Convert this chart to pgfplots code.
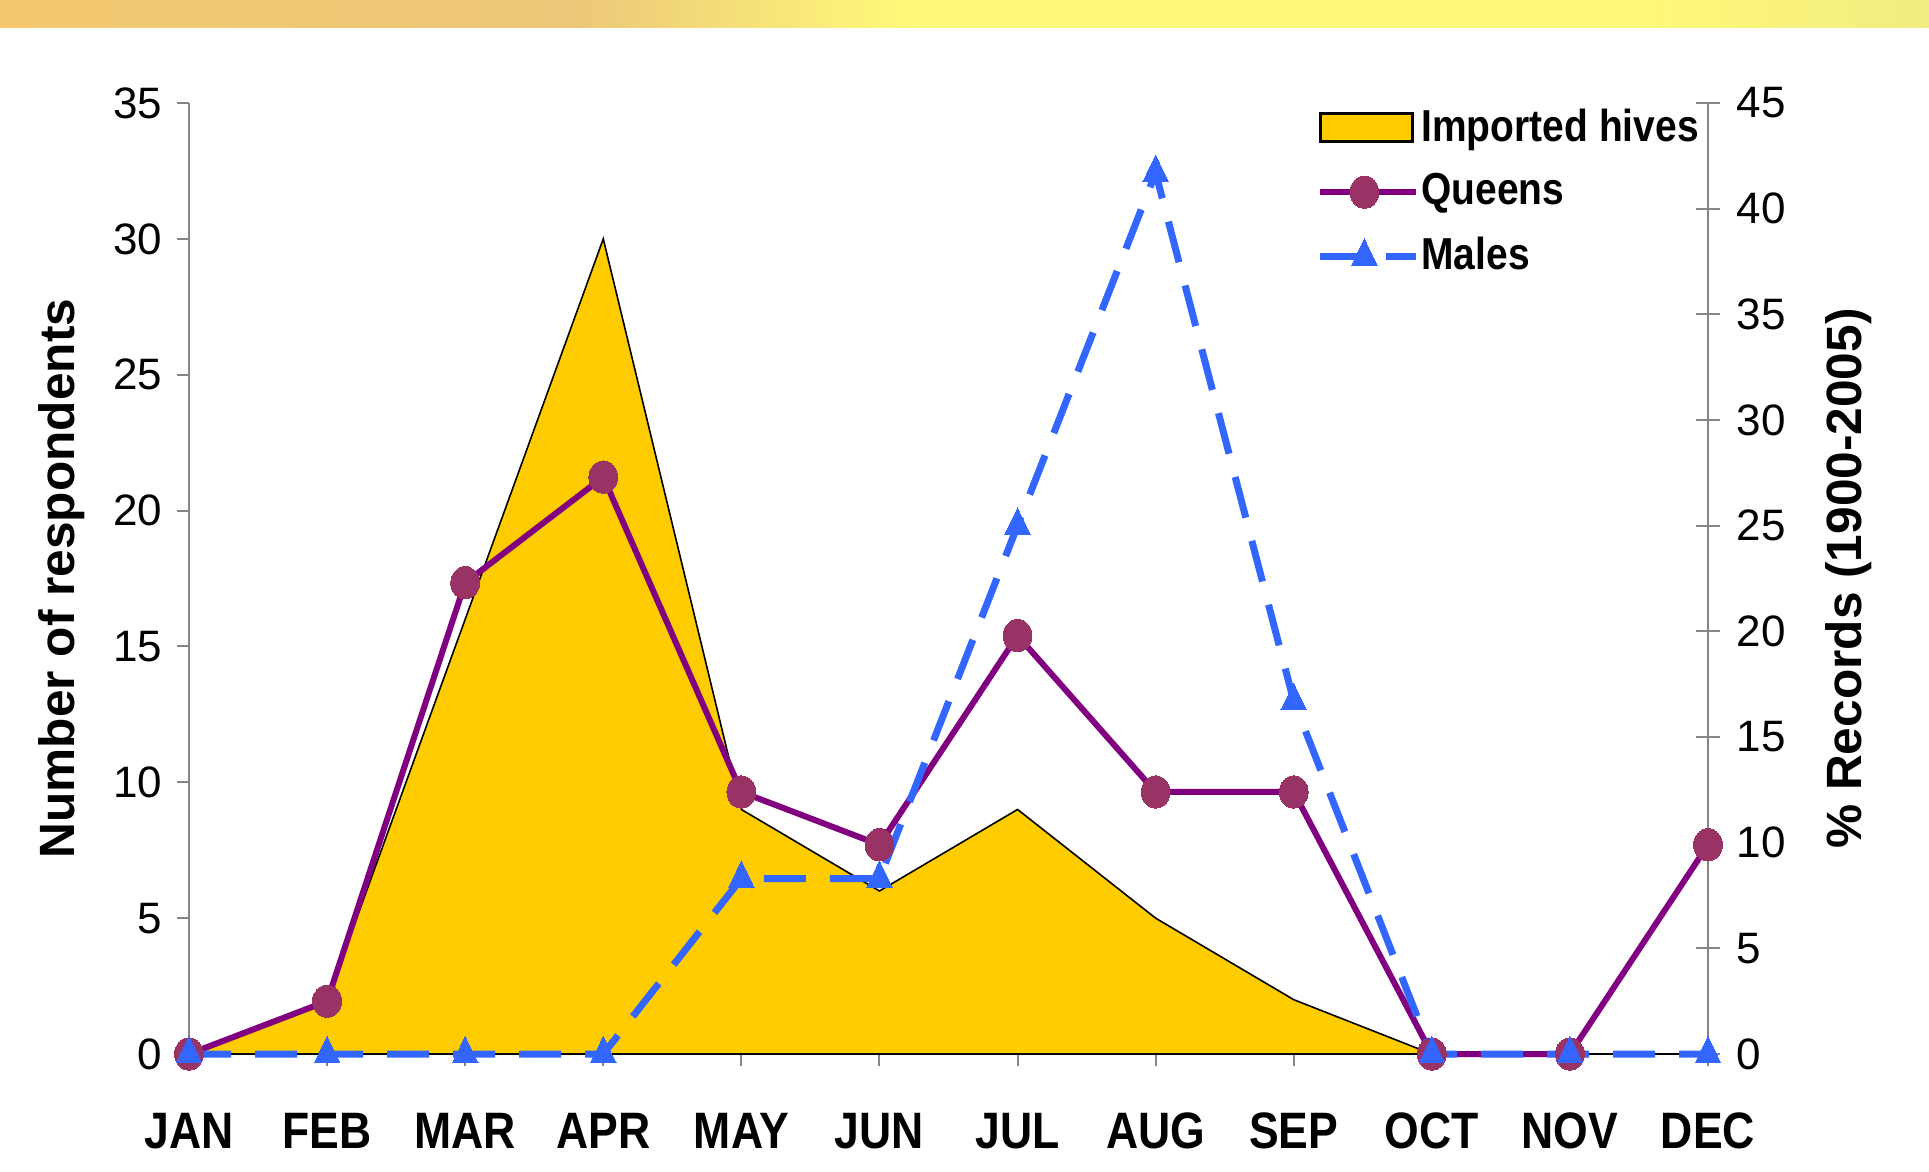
\documentclass[border=0pt]{standalone}
\usepackage{fontspec}
\setmainfont{Liberation Sans}
\newfontfamily\condfont[FakeStretch=0.87]{Liberation Sans}
\usepackage{pgfplots}
\pgfplotsset{compat=1.18}
\definecolor{hive}{RGB}{255,204,0}
\definecolor{queenline}{RGB}{128,0,128}
\definecolor{queenmark}{RGB}{153,51,102}
\definecolor{males}{RGB}{51,102,255}
\definecolor{axgray}{RGB}{134,134,134}
\definecolor{bandA}{RGB}{245,200,112}
\definecolor{bandB}{RGB}{236,200,120}
\definecolor{bandC}{RGB}{255,249,122}
\definecolor{bandD}{RGB}{242,236,128}
\pgfdeclarehorizontalshading{band}{100bp}{color(0bp)=(bandA); color(25bp)=(bandA); color(40bp)=(bandB); color(48.5bp)=(bandC); color(67.5bp)=(bandC); color(75bp)=(bandD); color(100bp)=(bandD)}
\begin{document}
\begin{tikzpicture}
\useasboundingbox (0,0) rectangle (482.25pt,292.75pt);
\shade[shading=band] (0,286pt) rectangle (482.25pt,292.75pt);

\begin{axis}[
  at={(47.25pt,29.25pt)}, anchor=south west,
  scale only axis, width=379.75pt, height=237.75pt,
  xmin=0, xmax=11, ymin=0, ymax=35,
  axis x line*=bottom, axis y line*=left,
  x axis line style={black, line width=0.4pt, -},
  y axis line style={axgray, line width=0.5pt, -},
  xtick={0,...,11},
  xticklabels={JAN,FEB,MAR,APR,MAY,JUN,JUL,AUG,SEP,OCT,NOV,DEC},
  ytick={0,5,...,35},
  tick align=outside,
  major tick length=3pt,
  tick style={axgray, line width=0.5pt},
  /pgf/number format/assume math mode=true,
  yticklabel style={font=\fontsize{11}{13}\selectfont, inner sep=0pt, anchor=east, xshift=-3.5pt},
  xticklabel style={font=\condfont\bfseries\fontsize{12.8}{15}\selectfont, anchor=base, yshift=-20.5pt},
  ylabel={Number of respondents},
  ylabel style={at={(rel axis cs:-0.084,0.5)}, anchor=center, font=\bfseries\fontsize{12.4}{14}\selectfont},
  clip=false,
]
\addplot[fill=hive, draw=black, line width=0.4pt] coordinates {
  (0,0) (1,2) (2,16) (3,30) (4,9) (5,6) (6,9) (7,5) (8,2) (9,0) (10,0) (11,0)
} \closedcycle;
\end{axis}

\begin{axis}[
  at={(47.25pt,29.25pt)}, anchor=south west,
  scale only axis, width=379.75pt, height=237.75pt,
  xmin=0, xmax=11, ymin=0, ymax=45,
  axis x line=none, axis y line*=right,
  y axis line style={axgray, line width=0.5pt, -},
  ytick={0,5,...,45},
  ytick align=center,
  major tick length=6pt,
  tick style={axgray, line width=0.5pt},
  /pgf/number format/assume math mode=true,
  yticklabel style={font=\fontsize{11}{13}\selectfont, inner sep=0pt, anchor=west, xshift=4pt},
  ylabel={\% Records (1900-2005)},
  ylabel style={at={(rel axis cs:1.0928,0.5)}, anchor=center, font=\bfseries\fontsize{12.4}{14}\selectfont},
  clip=false,
  legend image code/.code={\draw[mark repeat=2,mark phase=2] plot coordinates {(0pt,0pt) (11pt,0pt) (24pt,0pt)};},
  legend style={at={(rel axis cs:0.742,1.0)}, anchor=north west, draw=none, fill=none,
    font=\condfont\bfseries\fontsize{11.2}{13}\selectfont, row sep=4.2pt, inner sep=0pt,
    nodes={inner xsep=0.4pt, inner ysep=1.2pt}},
  legend cell align=left,
]
\addlegendimage{legend image code/.code={\draw[fill=hive, draw=black, line width=0.7pt] (0pt,-3.5pt) rectangle (23pt,3.5pt);}}
\addlegendentry{Imported hives}
\addplot[queenline, line width=1.5pt, mark=*, mark size=3.6pt,
  mark options={fill=queenmark, draw=queenmark, line width=0pt, solid, yscale=1.12}] coordinates {
  (0,0) (1,2.5) (2,22.3) (3,27.3) (4,12.4) (5,9.9) (6,19.8) (7,12.4) (8,12.4) (9,0) (10,0) (11,9.9)
};
\addlegendentry{Queens}
\addplot[males, line width=1.75pt, dash pattern=on 10.5pt off 6pt, mark=triangle*, mark size=3.7pt,
  mark options={fill=males, draw=males, line width=0pt, solid, yscale=1.2}] coordinates {
  (0,0) (1,0) (2,0) (3,0) (4,8.3) (5,8.3) (6,25) (7,41.7) (8,16.7) (9,0) (10,0) (11,0)
};
\addlegendentry{Males}
\end{axis}
\end{tikzpicture}
\end{document}
